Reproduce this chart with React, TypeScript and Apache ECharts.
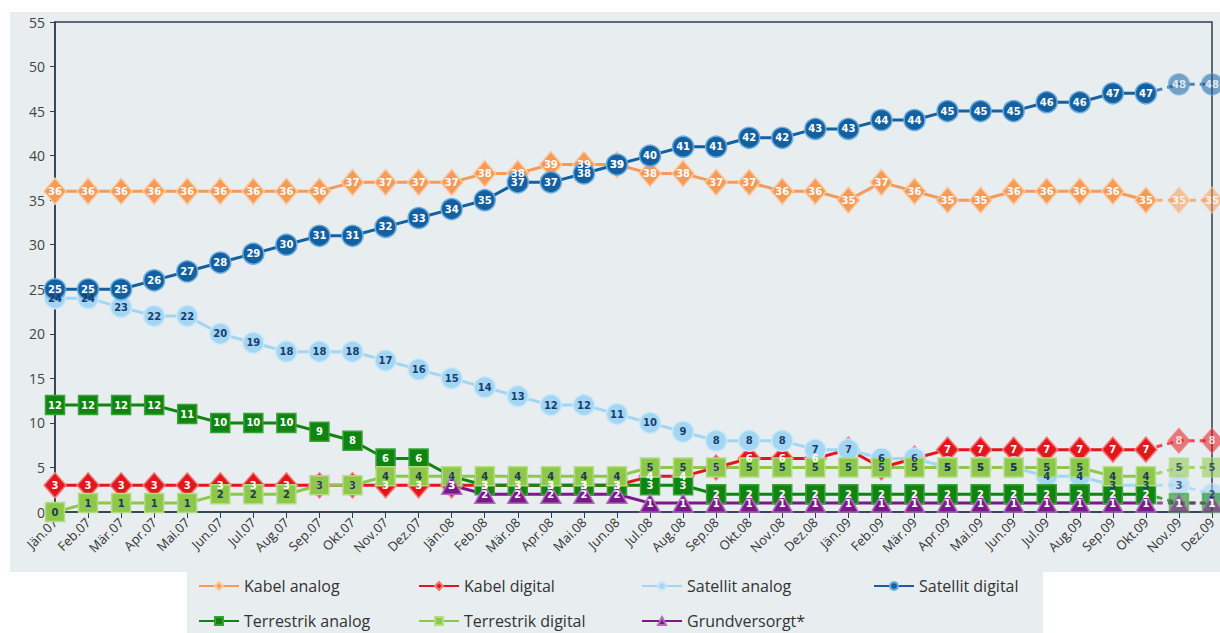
import React, { useEffect, useRef } from "react";
import * as echarts from "echarts";

const months = [
  "Jän.07", "Feb.07", "Mär.07", "Apr.07", "Mai.07", "Jun.07", "Jul.07", "Aug.07", "Sep.07", "Okt.07", "Nov.07", "Dez.07",
  "Jän.08", "Feb.08", "Mär.08", "Apr.08", "Mai.08", "Jun.08", "Jul.08", "Aug.08", "Sep.08", "Okt.08", "Nov.08", "Dez.08",
  "Jän.09", "Feb.09", "Mär.09", "Apr.09", "Mai.09", "Jun.09", "Jul.09", "Aug.09", "Sep.09", "Okt.09", "Nov.09", "Dez.09",
];

const kabelAnalog = [36, 36, 36, 36, 36, 36, 36, 36, 36, 37, 37, 37, 37, 38, 38, 39, 39, 39, 38, 38, 37, 37, 36, 36, 35, 37, 36, 35, 35, 36, 36, 36, 36, 35, 35, 35];
const kabelDigital = [3, 3, 3, 3, 3, 3, 3, 3, 3, 3, 3, 3, 3, 3, 3, 3, 3, 3, 4, 4, 5, 6, 6, 6, 7, 5, 6, 7, 7, 7, 7, 7, 7, 7, 8, 8];
const satellitAnalog = [24, 24, 23, 22, 22, 20, 19, 18, 18, 18, 17, 16, 15, 14, 13, 12, 12, 11, 10, 9, 8, 8, 8, 7, 7, 6, 6, 5, 5, 5, 4, 4, 3, 3, 3, 2];
const satellitDigital = [25, 25, 25, 26, 27, 28, 29, 30, 31, 31, 32, 33, 34, 35, 37, 37, 38, 39, 40, 41, 41, 42, 42, 43, 43, 44, 44, 45, 45, 45, 46, 46, 47, 47, 48, 48];
const terrestrikAnalog = [12, 12, 12, 12, 11, 10, 10, 10, 9, 8, 6, 6, 4, 3, 3, 3, 3, 3, 3, 3, 2, 2, 2, 2, 2, 2, 2, 2, 2, 2, 2, 2, 2, 2, 1, 1];
const terrestrikDigital = [0, 1, 1, 1, 1, 2, 2, 2, 3, 3, 4, 4, 4, 4, 4, 4, 4, 4, 5, 5, 5, 5, 5, 5, 5, 5, 5, 5, 5, 5, 5, 5, 4, 4, 5, 5];
const grundversorgt = [null, null, null, null, null, null, null, null, null, null, null, null, 3, 2, 2, 2, 2, 2, 1, 1, 1, 1, 1, 1, 1, 1, 1, 1, 1, 1, 1, 1, 1, 1, 1, 1];

const forecastStart = 33; // Okt.09 – last measured month, Nov.09/Dez.09 are projections

const yTicks = { min: 0, max: 55, interval: 5 };

type Def = {
  name: string;
  data: (number | null)[];
  color: string;
  border: string;
  labelColor: string;
  symbol: string;
  size: number | number[];
};

const defs: Def[] = [
  { name: "Kabel analog", data: kabelAnalog, color: "#f59b5a", border: "#fcc89c", labelColor: "#ffffff", symbol: "diamond", size: [22, 26] },
  { name: "Kabel digital", data: kabelDigital, color: "#e3161b", border: "#f2797b", labelColor: "#ffffff", symbol: "diamond", size: [22, 25] },
  { name: "Satellit analog", data: satellitAnalog, color: "#a3d6f3", border: "#c9e8f9", labelColor: "#183d6e", symbol: "circle", size: 21 },
  { name: "Satellit digital", data: satellitDigital, color: "#15609f", border: "#6aaee0", labelColor: "#ffffff", symbol: "circle", size: 21 },
  { name: "Terrestrik analog", data: terrestrikAnalog, color: "#0f850f", border: "#3aa13a", labelColor: "#ffffff", symbol: "rect", size: 19 },
  { name: "Terrestrik digital", data: terrestrikDigital, color: "#8dc84b", border: "#b3dc84", labelColor: "#1d3a52", symbol: "rect", size: 19 },
  { name: "Grundversorgt*", data: grundversorgt, color: "#7a1a8a", border: "#b06cbb", labelColor: "#ffffff", symbol: "triangle", size: [20, 18] },
];

const legendPos = [
  { left: 193, top: 573 },
  { left: 413, top: 573 },
  { left: 636, top: 573 },
  { left: 868, top: 573 },
  { left: 193, top: 608 },
  { left: 413, top: 608 },
  { left: 636, top: 608 },
];

export default function App() {
  const ref = useRef<HTMLDivElement>(null);
  useEffect(() => {
    if (!ref.current) return;
    const chart = echarts.init(ref.current, undefined, { renderer: "svg" });
    const series: any[] = [];
    defs.forEach((d) => {
      const main = d.data.map((v, i) => (i <= forecastStart ? v : null));
      const fc = d.data.map((v, i) => {
        if (i < forecastStart) return null;
        if (i === forecastStart) return { value: v, symbol: "none", label: { show: false } };
        return v;
      });
      const labelBase = {
        show: true,
        position: "inside",
        color: d.labelColor,
        fontSize: 10,
        fontWeight: "bold",
        fontFamily: "DejaVu Sans",
      };
      series.push({
        name: d.name,
        type: "line",
        data: main,
        symbol: d.symbol,
        symbolSize: d.size,
        showAllSymbol: true,
        connectNulls: false,
        lineStyle: { color: d.color, width: 3 },
        itemStyle: { color: d.color, borderColor: d.border, borderWidth: 1.5 },
        label: labelBase,
        emphasis: { disabled: true },
      });
      series.push({
        name: d.name,
        type: "line",
        data: fc,
        symbol: d.symbol,
        symbolSize: d.size,
        showAllSymbol: true,
        lineStyle: { color: d.color, width: 3, type: [6, 5], opacity: 0.75 },
        itemStyle: { color: d.color, borderColor: d.border, borderWidth: 1.5, opacity: 0.55 },
        label: { ...labelBase, opacity: 0.8 },
        emphasis: { disabled: true },
      });
    });

    const legends = defs.map((d, i) => ({
      data: [d.name],
      left: legendPos[i].left,
      top: legendPos[i].top,
      itemWidth: 40,
      itemHeight: 10,
      itemGap: 0,
      textStyle: { fontFamily: "Open Sans", fontSize: 16, color: "#333" },
      selectedMode: false,
    }));

    chart.setOption({
      animation: false,
      backgroundColor: "#ffffff",
      graphic: [
        { type: "rect", shape: { x: 10, y: 12, width: 1210, height: 560 }, style: { fill: "#e8edf0" }, z: -10 },
        { type: "rect", shape: { x: 187, y: 572, width: 856, height: 61 }, style: { fill: "#e8edf0" }, z: -10 },
      ],
      grid: {
        left: 55,
        right: 8,
        top: 22,
        bottom: 121,
        show: true,
        borderColor: "#2c3e50",
        borderWidth: 1.5,
        backgroundColor: "transparent",
      },
      legend: legends,
      xAxis: {
        type: "category",
        data: months,
        boundaryGap: false,
        axisLine: { lineStyle: { color: "#2c3e50", width: 1.5 } },
        axisTick: { show: true, inside: false, length: 6, alignWithLabel: true, lineStyle: { color: "#2c3e50" } },
        axisLabel: { rotate: 45, interval: 0, fontFamily: "Open Sans", fontSize: 13, color: "#333", margin: 8 },
        splitLine: { show: false },
      },
      yAxis: {
        type: "value",
        min: yTicks.min,
        max: yTicks.max,
        interval: yTicks.interval,
        axisLine: { show: true, lineStyle: { color: "#2c3e50", width: 1.5 } },
        axisTick: { show: true, inside: false, length: 5, lineStyle: { color: "#2c3e50" } },
        axisLabel: { fontFamily: "Open Sans", fontSize: 14, color: "#444", margin: 10 },
        splitLine: { show: false },
      },
      series,
    });
    return () => chart.dispose();
  }, []);
  return <div ref={ref} style={{ position: "fixed", left: 0, top: 0, width: 1220, height: 633 }} />;
}
